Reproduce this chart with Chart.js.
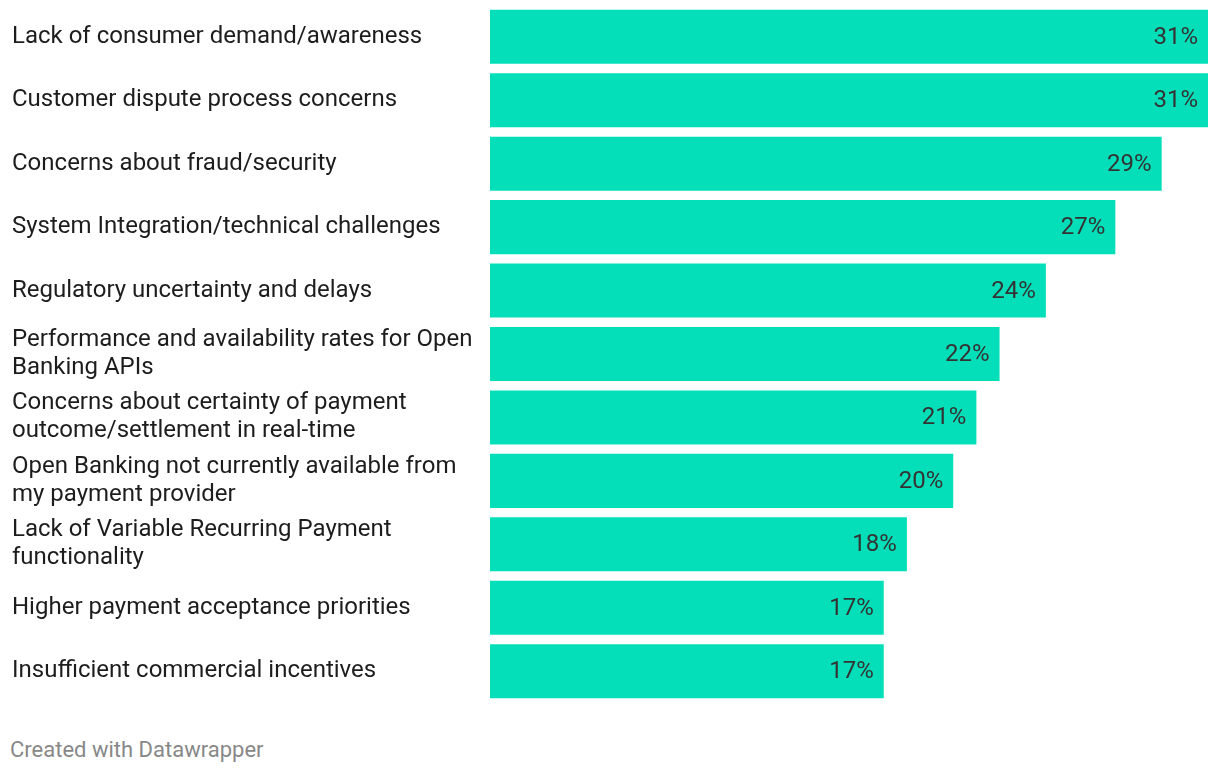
<!DOCTYPE html>
<html>
<head>
<meta charset="utf-8">
<script src="https://cdn.jsdelivr.net/npm/chart.js@4"></script>
<style>
  body { margin: 0; background: #fff; font-family: Roboto, sans-serif; overflow: hidden; }
  #wrap { position: absolute; left: 0; top: -12px; width: 1220px; height: 732px; }
  #footer { position: absolute; left: 10px; top: 737px; font-size: 22px; color: #888; }
</style>
</head>
<body>
<div id="wrap"><canvas id="barChart"></canvas></div>
<div id="footer">Created with Datawrapper</div>
<script>
const categories = [
  "Lack of consumer demand/awareness",
  "Customer dispute process concerns",
  "Concerns about fraud/security",
  "System Integration/technical challenges",
  "Regulatory uncertainty and delays",
  ["Performance and availability rates for Open", "Banking APIs"],
  ["Concerns about certainty of payment", "outcome/settlement in real-time"],
  ["Open Banking not currently available from", "my payment provider"],
  ["Lack of Variable Recurring Payment", "functionality"],
  "Higher payment acceptance priorities",
  "Insufficient commercial incentives"
];
const values = [31, 31, 29, 27, 24, 22, 21, 20, 18, 17, 17];

const valueLabels = {
  id: "valueLabels",
  afterDatasetsDraw(chart) {
    const ctx = chart.ctx;
    const meta = chart.getDatasetMeta(0);
    ctx.save();
    ctx.font = "24px Roboto";
    ctx.fillStyle = "#333333";
    ctx.textAlign = "right";
    ctx.textBaseline = "middle";
    meta.data.forEach(function (bar, i) {
      ctx.fillText(values[i] + "%", bar.x - 10, bar.y + 1);
    });
    ctx.restore();
  }
};

const ctx = document.getElementById("barChart").getContext("2d");
new Chart(ctx, {
  type: "bar",
  data: {
    labels: categories,
    datasets: [
      {
        data: values,
        backgroundColor: "#04dfb9",
        barPercentage: 0.852,
        categoryPercentage: 1
      }
    ]
  },
  options: {
    indexAxis: "y",
    responsive: true,
    maintainAspectRatio: false,
    animation: false,
    layout: { padding: { left: 12, right: 12, top: 0, bottom: 0 } },
    plugins: {
      legend: { display: false },
      tooltip: { enabled: false }
    },
    scales: {
      x: {
        display: false,
        min: 0,
        max: 31
      },
      y: {
        grid: { display: false },
        border: { display: false },
        afterFit: function (scale) {
          scale.width = 478;
        },
        ticks: {
          crossAlign: "far",
          color: "#1d1d1d",
          font: { family: "Roboto", size: 24, lineHeight: 1.17 }
        }
      }
    }
  },
  plugins: [valueLabels]
});
</script>
</body>
</html>
